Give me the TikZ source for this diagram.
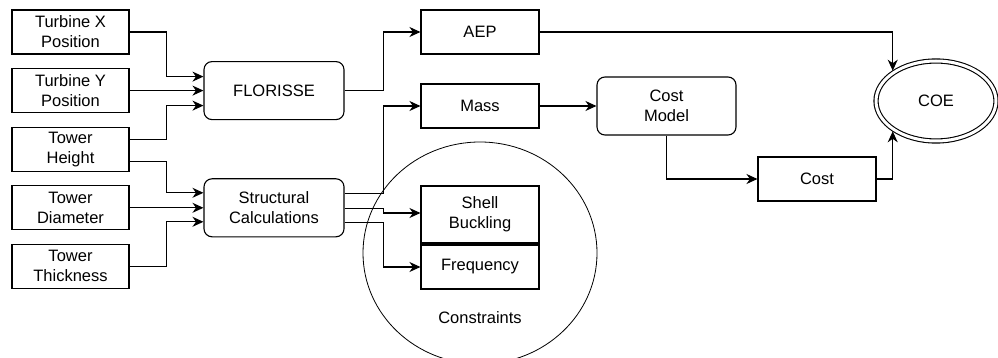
\documentclass[tikz,border=0pt]{standalone}
\usepackage{fontspec}
\setmainfont{Liberation Sans}
\usetikzlibrary{positioning, arrows.meta, shapes.geometric}

\tikzset{
  inbox/.style={draw, rectangle, align=center, minimum width=117pt, minimum height=44pt, inner sep=1pt},
  procbox/.style={draw, rectangle, rounded corners=8pt, align=center, minimum width=140pt, minimum height=58pt, inner sep=1pt},
  outbox/.style={draw, rectangle, align=center, minimum width=118pt, minimum height=44pt, inner sep=1pt},
  groupring/.style={draw, ellipse, line width=0.8pt, minimum width=234pt, minimum height=222pt, inner sep=0pt},
  goalring/.style={draw, ellipse, double, double distance=3pt, minimum width=120pt, minimum height=80pt, outer sep=2.2pt}
}

\begin{document}
\begin{tikzpicture}[x=1pt,y=1pt,on grid,line width=1.1pt,
    font=\fontsize{16.5}{20}\selectfont,
    >={Stealth[length=11pt,width=10pt,inset=3.5pt]}]
      \useasboundingbox (0,0) rectangle (998,-358);
      % inputs
      \node[inbox] (tx) at (70.5,-32) {Turbine X\\Position};
      \node[inbox] (ty) [below=58.6pt of tx] {Turbine Y\\Position};
      \node[inbox] (th) [below=58.6pt of ty] {Tower\\Height};
      \node[inbox] (td) [below=58.6pt of th] {Tower\\Diameter};
      \node[inbox] (tt) [below=58.6pt of td] {Tower\\Thickness};
      % analyses
      \node[procbox] (flo) [right=203.5pt of ty] {FLORISSE};
      \node[procbox] (str) [right=203.5pt of td] {Structural\\Calculations};
      % outputs
      \node[outbox] (aep)  [right=409.5pt of tx] {AEP};
      \node[outbox] (mass) [below=74pt of aep] {Mass};
      \node[groupring] (cons) [below=147pt of mass] {};
      \node (constext) [below=65pt of cons] {Constraints};
      \node[outbox, minimum height=57pt] (shell) [below=108.5pt of mass] {Shell\\Buckling};
      \node[outbox] (freq) [below=52.5pt of shell] {Frequency};
      \node[procbox, minimum width=139pt] (cm) [right=186.5pt of mass] {Cost\\Model};
      \node[outbox] (cost) [below right=73pt and 150.5pt of cm] {Cost};
      \node[goalring] (coe) [above right=5pt and 269.5pt of cm] {COE};
      \path[->]
      (tx.east) edge[to path={-- ++(37,0) |- (\tikztotarget)}] ([yshift=14pt]flo.west)
      (ty.east) edge (flo.west)
      ([yshift=10pt]th.east) edge[to path={-- ++(37,0) |- (\tikztotarget)}] ([yshift=-15pt]flo.west)
      ([yshift=-12pt]th.east) edge[to path={-- ++(37,0) |- (\tikztotarget)}] ([yshift=15pt]str.west)
      (td.east) edge (str.west)
      (tt.east) edge[to path={-- ++(37,0) |- (\tikztotarget)}] ([yshift=-14pt]str.west)
      (flo.east) edge[to path={-- ++(39,0) |- (\tikztotarget)}] (aep.west)
      ([yshift=14pt]str.east) edge[to path={-- ++(39,0) |- (\tikztotarget)}] (mass.west)
      ([yshift=-1pt]str.east) edge[to path={-- ++(39,0) |- (\tikztotarget)}] ([yshift=1.5pt]shell.west)
      ([yshift=-15pt]str.east) edge[to path={-- ++(39,0) |- (\tikztotarget)}] (freq.west)
      (mass.east) edge (cm.west)
      (cm.south) edge[to path={|- (\tikztotarget)}] (cost.west)
      (aep.east) edge[to path={-| (\tikztotarget)}] (coe.145)
      (cost.east) edge[to path={-| (\tikztotarget)}] (coe.215);
    \end{tikzpicture}
\end{document}
